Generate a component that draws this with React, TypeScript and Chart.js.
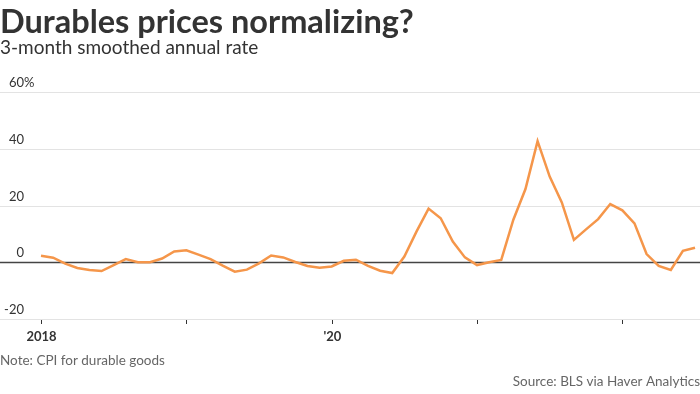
import React, { useEffect, useRef } from "react";
import { Chart, registerables } from "chart.js";

Chart.register(...registerables);

const months: number[] = Array.from({ length: 55 }, (_, i) => i); // Jan 2018 .. Jul 2022
const values: number[] = [
  2.3, 1.6, -0.5, -2.0, -2.7, -3.1, -1.0, 1.1, 0.0, 0.0, 1.3, 3.8,
  4.2, 2.7, 1.1, -1.2, -3.3, -2.6, -0.4, 2.4, 1.7, 0.1, -1.3, -1.9,
  -1.5, 0.5, 0.9, -1.3, -3.0, -3.8, 2.0, 10.8, 18.9, 15.5, 7.3, 1.7,
  -1.0, 0.0, 0.8, 15.0, 25.8, 42.7, 30.2, 21.1, 7.9, 11.6, 15.2, 20.5,
  18.3, 13.7, 2.9, -1.3, -2.7, 4.0, 5.1,
];
const yTicks: number[] = [-20, 0, 20, 40, 60];
const yTickLabels: string[] = ["-20", "0", "20", "40", "60"];
const xTickMonths: number[] = [0, 12, 24, 36, 48];
const xTickLabels: string[] = ["2018", "", "'20", "", ""];

const TITLE = "Durables prices normalizing?";
const SUBTITLE = "3-month smoothed annual rate";
const NOTE = "Note: CPI for durable goods";
const SOURCE = "Source: BLS via Haver Analytics";

const FONT = "Lato, 'Open Sans', sans-serif";

const overlay = {
  id: "overlay",
  beforeDatasetsDraw(chart: any) {
    const ctx = chart.ctx;
    const y = chart.scales.y;
    ctx.save();
    yTicks.forEach((t) => {
      const py = Math.round(y.getPixelForValue(t)) + 0.5;
      ctx.beginPath();
      ctx.moveTo(0, py);
      ctx.lineTo(chart.width, py);
      if (t === 0) {
        ctx.strokeStyle = "#444444";
        ctx.lineWidth = 1.5;
      } else {
        ctx.strokeStyle = "#e3e3e3";
        ctx.lineWidth = 1;
      }
      ctx.stroke();
    });
    ctx.restore();
  },
  afterDraw(chart: any) {
    const ctx = chart.ctx;
    const x = chart.scales.x;
    const y = chart.scales.y;
    const area = chart.chartArea;
    ctx.save();
    // Title
    ctx.fillStyle = "#333333";
    ctx.textAlign = "left";
    ctx.textBaseline = "alphabetic";
    ctx.font = `bold 32.5px ${FONT}`;
    ctx.fillText(TITLE, 0, 33);
    ctx.font = `19px ${FONT}`;
    ctx.fillText(SUBTITLE, 0, 54);

    // Y labels
    ctx.font = `13px ${FONT}`;
    ctx.fillStyle = "#333333";
    yTicks.forEach((t, i) => {
      const py = y.getPixelForValue(t) - 5;
      ctx.textAlign = "right";
      ctx.fillText(yTickLabels[i], 24, py);
      if (t === 60) {
        ctx.textAlign = "left";
        ctx.fillText("%", 24, py);
      }
    });

    // X ticks
    const bottom = area.bottom;
    ctx.strokeStyle = "#333333";
    ctx.lineWidth = 1;
    xTickMonths.forEach((m, i) => {
      const px = Math.round(x.getPixelForValue(m)) + 0.5;
      ctx.beginPath();
      ctx.moveTo(px, bottom + 1);
      ctx.lineTo(px, bottom + 5);
      ctx.stroke();
      if (xTickLabels[i]) {
        ctx.font = `bold 13px ${FONT}`;
        ctx.textAlign = "center";
        ctx.fillStyle = "#333333";
        ctx.fillText(xTickLabels[i], px, bottom + 22);
      }
    });

    // Note & source
    ctx.font = `13.5px ${FONT}`;
    ctx.fillStyle = "#666666";
    ctx.textAlign = "left";
    ctx.fillText(NOTE, 0, 365);
    ctx.textAlign = "right";
    ctx.fillText(SOURCE, 700, 386);
    ctx.restore();
  },
};

export default function App() {
  const ref = useRef<HTMLCanvasElement | null>(null);
  useEffect(() => {
    document.body.style.margin = "0";
    const canvas = ref.current!;
    const chart = new Chart(canvas, {
      type: "line",
      data: {
        datasets: [
          {
            data: months.map((m, i) => ({ x: m, y: values[i] })),
            borderColor: "#f5964a",
            borderWidth: 2.5,
            pointRadius: 0,
            tension: 0,
            fill: false,
          },
        ],
      },
      options: {
        animation: false,
        responsive: false,
        devicePixelRatio: 1,
        layout: { padding: { top: 92, bottom: 75, left: 0, right: 0 } },
        plugins: { legend: { display: false }, tooltip: { enabled: false } },
        scales: {
          x: { type: "linear", display: false, min: -3.385, max: 54.41 },
          y: { type: "linear", display: false, min: -20, max: 60 },
        },
      },
      plugins: [overlay],
    });
    return () => chart.destroy();
  }, []);
  return (
    <div style={{ width: 700, height: 394 }}>
      <canvas ref={ref} width={700} height={394} style={{ display: "block", width: 700, height: 394 }} />
    </div>
  );
}
